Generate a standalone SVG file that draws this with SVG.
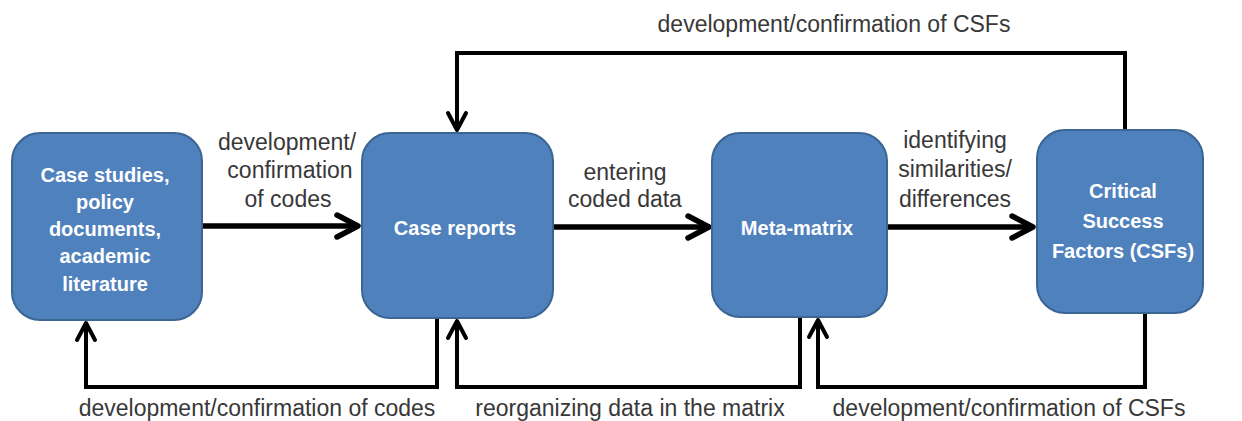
<svg xmlns="http://www.w3.org/2000/svg" width="1242" height="421" viewBox="0 0 1242 421">
<style>
.node rect{fill:#4F81BD;stroke:#3B6593;stroke-width:2}
.node text{fill:#fff;font-family:"Liberation Sans",Arial,sans-serif;font-weight:bold;font-size:20px;text-anchor:middle}
.lbl{fill:#383838;font-family:"Liberation Sans",Arial,sans-serif;font-size:23px;text-anchor:middle}
.main{fill:none;stroke:#000;stroke-width:5.5;marker-end:url(#big)}
.fb{fill:none;stroke:#000;stroke-width:4;marker-end:url(#small)}
</style>
<defs>
<marker id="big" markerUnits="userSpaceOnUse" viewBox="-28 -16 32 32" markerWidth="32" markerHeight="32" refX="0" refY="0" orient="auto">
<path d="M-21,-11 L0,0 L-21,11" fill="none" stroke="#000" stroke-width="5.5" stroke-linecap="round" stroke-linejoin="round"/>
</marker>
<marker id="small" markerUnits="userSpaceOnUse" viewBox="-24 -14 28 28" markerWidth="28" markerHeight="28" refX="0" refY="0" orient="auto">
<path d="M-17,-9 L0,0 L-17,9" fill="none" stroke="#000" stroke-width="4" stroke-linecap="round" stroke-linejoin="round"/>
</marker>
</defs>
<g id="connectors">
<path class="main" d="M202,226 H358"/>
<path class="main" d="M553,227 H709"/>
<path class="main" d="M887,227 H1033"/>
<path class="fb" d="M1125,130 V53 H457 V130"/>
<path class="fb" d="M437,318 V387 H86 V323"/>
<path class="fb" d="M800,317 V387 H457 V321"/>
<path class="fb" d="M1145,313 V387 H818 V320"/>
</g>
<g id="labels">
<text class="lbl" x="287" y="150">development/</text>
<text class="lbl" x="290" y="178">confirmation</text>
<text class="lbl" x="288" y="207">of codes</text>
<text class="lbl" x="625" y="180">entering</text>
<text class="lbl" x="625" y="207">coded data</text>
<text class="lbl" x="955" y="148">identifying</text>
<text class="lbl" x="955" y="177">similarities/</text>
<text class="lbl" x="955" y="207">differences</text>
<text class="lbl" x="834" y="32">development/confirmation of CSFs</text>
<text class="lbl" x="257" y="416">development/confirmation of codes</text>
<text class="lbl" x="630" y="416">reorganizing data in the matrix</text>
<text class="lbl" x="1009" y="416">development/confirmation of CSFs</text>
</g>
<g id="node-sources" class="node">
<rect x="12" y="133" width="190" height="187" rx="28"/>
<text x="105" y="182">Case studies,</text>
<text x="105" y="209">policy</text>
<text x="105" y="236">documents,</text>
<text x="105" y="263">academic</text>
<text x="105" y="291">literature</text>
</g>
<g id="node-case-reports" class="node">
<rect x="362" y="133" width="191" height="185" rx="28"/>
<text x="455" y="235">Case reports</text>
</g>
<g id="node-meta-matrix" class="node">
<rect x="712" y="133" width="175" height="184" rx="28"/>
<text x="797" y="235">Meta-matrix</text>
</g>
<g id="node-csfs" class="node">
<rect x="1037" y="130" width="166" height="183" rx="28"/>
<text x="1123" y="198">Critical</text>
<text x="1123" y="228">Success</text>
<text x="1123" y="258">Factors (CSFs)</text>
</g>
</svg>
